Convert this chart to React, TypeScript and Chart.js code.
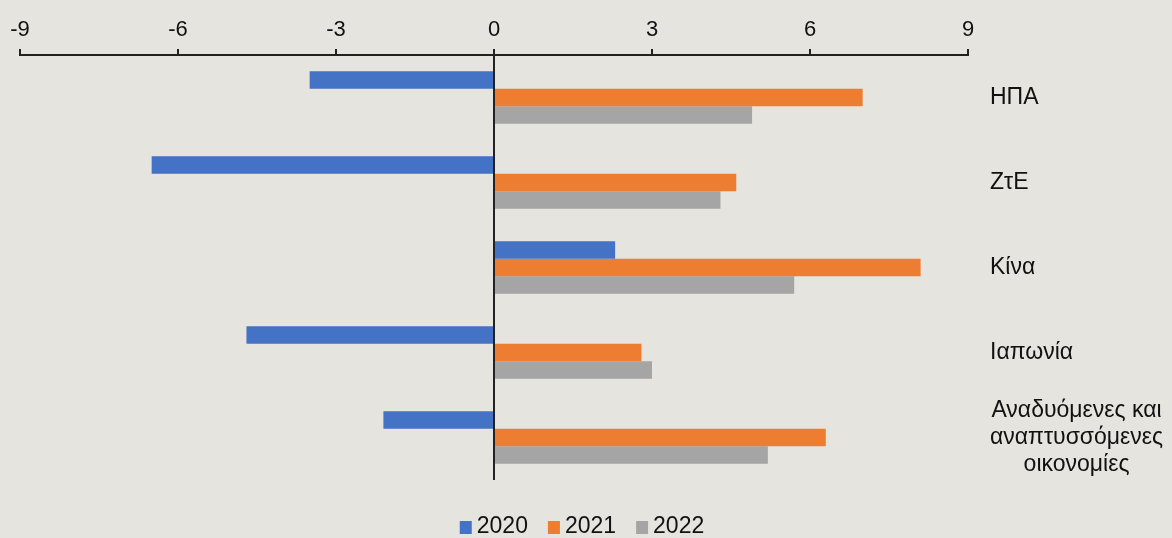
import React, { useEffect, useRef } from "react";
import { Chart, registerables } from "chart.js";

Chart.register(...registerables);

const categories: (string | string[])[] = [
  "ΗΠΑ",
  "ΖτΕ",
  "Κίνα",
  "Ιαπωνία",
  ["Αναδυόμενες και", "αναπτυσσόμενες", "οικονομίες"],
];
const seriesNames = ["2020", "2021", "2022"];
const values2020 = [-3.5, -6.5, 2.3, -4.7, -2.1];
const values2021 = [7.0, 4.6, 8.1, 2.8, 6.3];
const values2022 = [4.9, 4.3, 5.7, 3.0, 5.2];
const colors = ["#4472c4", "#ed7d31", "#a5a5a5"];
const xMin = -9;
const xMax = 9;
const xStep = 3;

const FONT = "'Liberation Sans', Arial, sans-serif";

const categoryLabelPlugin = {
  id: "categoryLabels",
  afterDraw(chart: any) {
    const ctx = chart.ctx;
    const yScale = chart.scales.y;
    ctx.save();
    ctx.font = `23px ${FONT}`;
    ctx.fillStyle = "#111";
    ctx.textBaseline = "middle";
    const left = chart.chartArea.right + 22;
    const lineH = 27;
    categories.forEach((lab, i) => {
      const y = yScale.getPixelForValue(i);
      const lines = Array.isArray(lab) ? lab : [lab];
      const maxW = Math.max(...lines.map((l) => ctx.measureText(l).width));
      lines.forEach((l, k) => {
        const ly = y + (k - (lines.length - 1) / 2) * lineH;
        if (lines.length > 1) {
          ctx.textAlign = "center";
          ctx.fillText(l, left + maxW / 2, ly);
        } else {
          ctx.textAlign = "left";
          ctx.fillText(l, left, ly);
        }
      });
    });
    ctx.restore();
  },
};

const legendPlugin = {
  id: "customLegend",
  afterDraw(chart: any) {
    const ctx = chart.ctx;
    ctx.save();
    ctx.font = `23px ${FONT}`;
    ctx.textBaseline = "middle";
    ctx.textAlign = "left";
    const box = 12;
    const gap = 5;
    const spacing = 20;
    const widths = seriesNames.map((n) => box + gap + ctx.measureText(n).width);
    const total = widths.reduce((a, b) => a + b, 0) + spacing * (widths.length - 1);
    let x = 582 - total / 2;
    const cy = 527;
    seriesNames.forEach((n, i) => {
      ctx.fillStyle = colors[i];
      ctx.fillRect(x, cy - 6, box, 13);
      ctx.fillStyle = "#111";
      ctx.fillText(n, x + box + gap, cy);
      x += widths[i] + spacing;
    });
    ctx.restore();
  },
};

export default function App() {
  const ref = useRef<HTMLCanvasElement | null>(null);
  useEffect(() => {
    document.body.style.margin = "0";
    const data = [values2020, values2021, values2022];
    const chart = new Chart(ref.current as HTMLCanvasElement, {
      type: "bar",
      data: {
        labels: categories.map((c) => (Array.isArray(c) ? c.join(" ") : c)),
        datasets: seriesNames.map((name, i) => ({
          label: name,
          data: data[i],
          backgroundColor: colors[i],
          borderWidth: 0,
          categoryPercentage: 0.62,
          barPercentage: 1,
        })),
      },
      options: {
        indexAxis: "y",
        animation: false,
        responsive: false,
        maintainAspectRatio: false,
        layout: { padding: { left: 20, right: 0, top: 0, bottom: 0 } },
        scales: {
          x: {
            position: "top",
            min: xMin,
            max: xMax,
            ticks: {
              stepSize: xStep,
              font: { size: 22, family: FONT },
              color: "#111",
              padding: 6,
            },
            grid: {
              drawOnChartArea: true,
              color: (c: any) => (c.tick && c.tick.value === 0 ? "#222" : "rgba(0,0,0,0)"),
              tickColor: "#222",
              tickLength: 6,
              lineWidth: 2,
            },
            border: { display: true, color: "#222", width: 2 },
            afterFit: (s: any) => {
              s.height = 55;
            },
          },
          x2: {
            type: "linear",
            position: "bottom",
            display: true,
            ticks: { display: false },
            grid: { display: false },
            border: { display: false },
            afterFit: (s: any) => {
              s.height = 58;
            },
          },
          y: {
            position: "right",
            ticks: { display: false },
            grid: { display: false },
            border: { display: false },
            afterFit: (s: any) => {
              s.width = 204;
            },
          },
        },
        plugins: {
          legend: { display: false },
          tooltip: { enabled: false },
        },
      },
      plugins: [categoryLabelPlugin, legendPlugin],
    } as any);
    return () => chart.destroy();
  }, []);
  return (
    <div style={{ width: 1172, height: 538, background: "#e5e4df" }}>
      <canvas ref={ref} width={1172} height={538} style={{ width: 1172, height: 538, display: "block" }} />
    </div>
  );
}
